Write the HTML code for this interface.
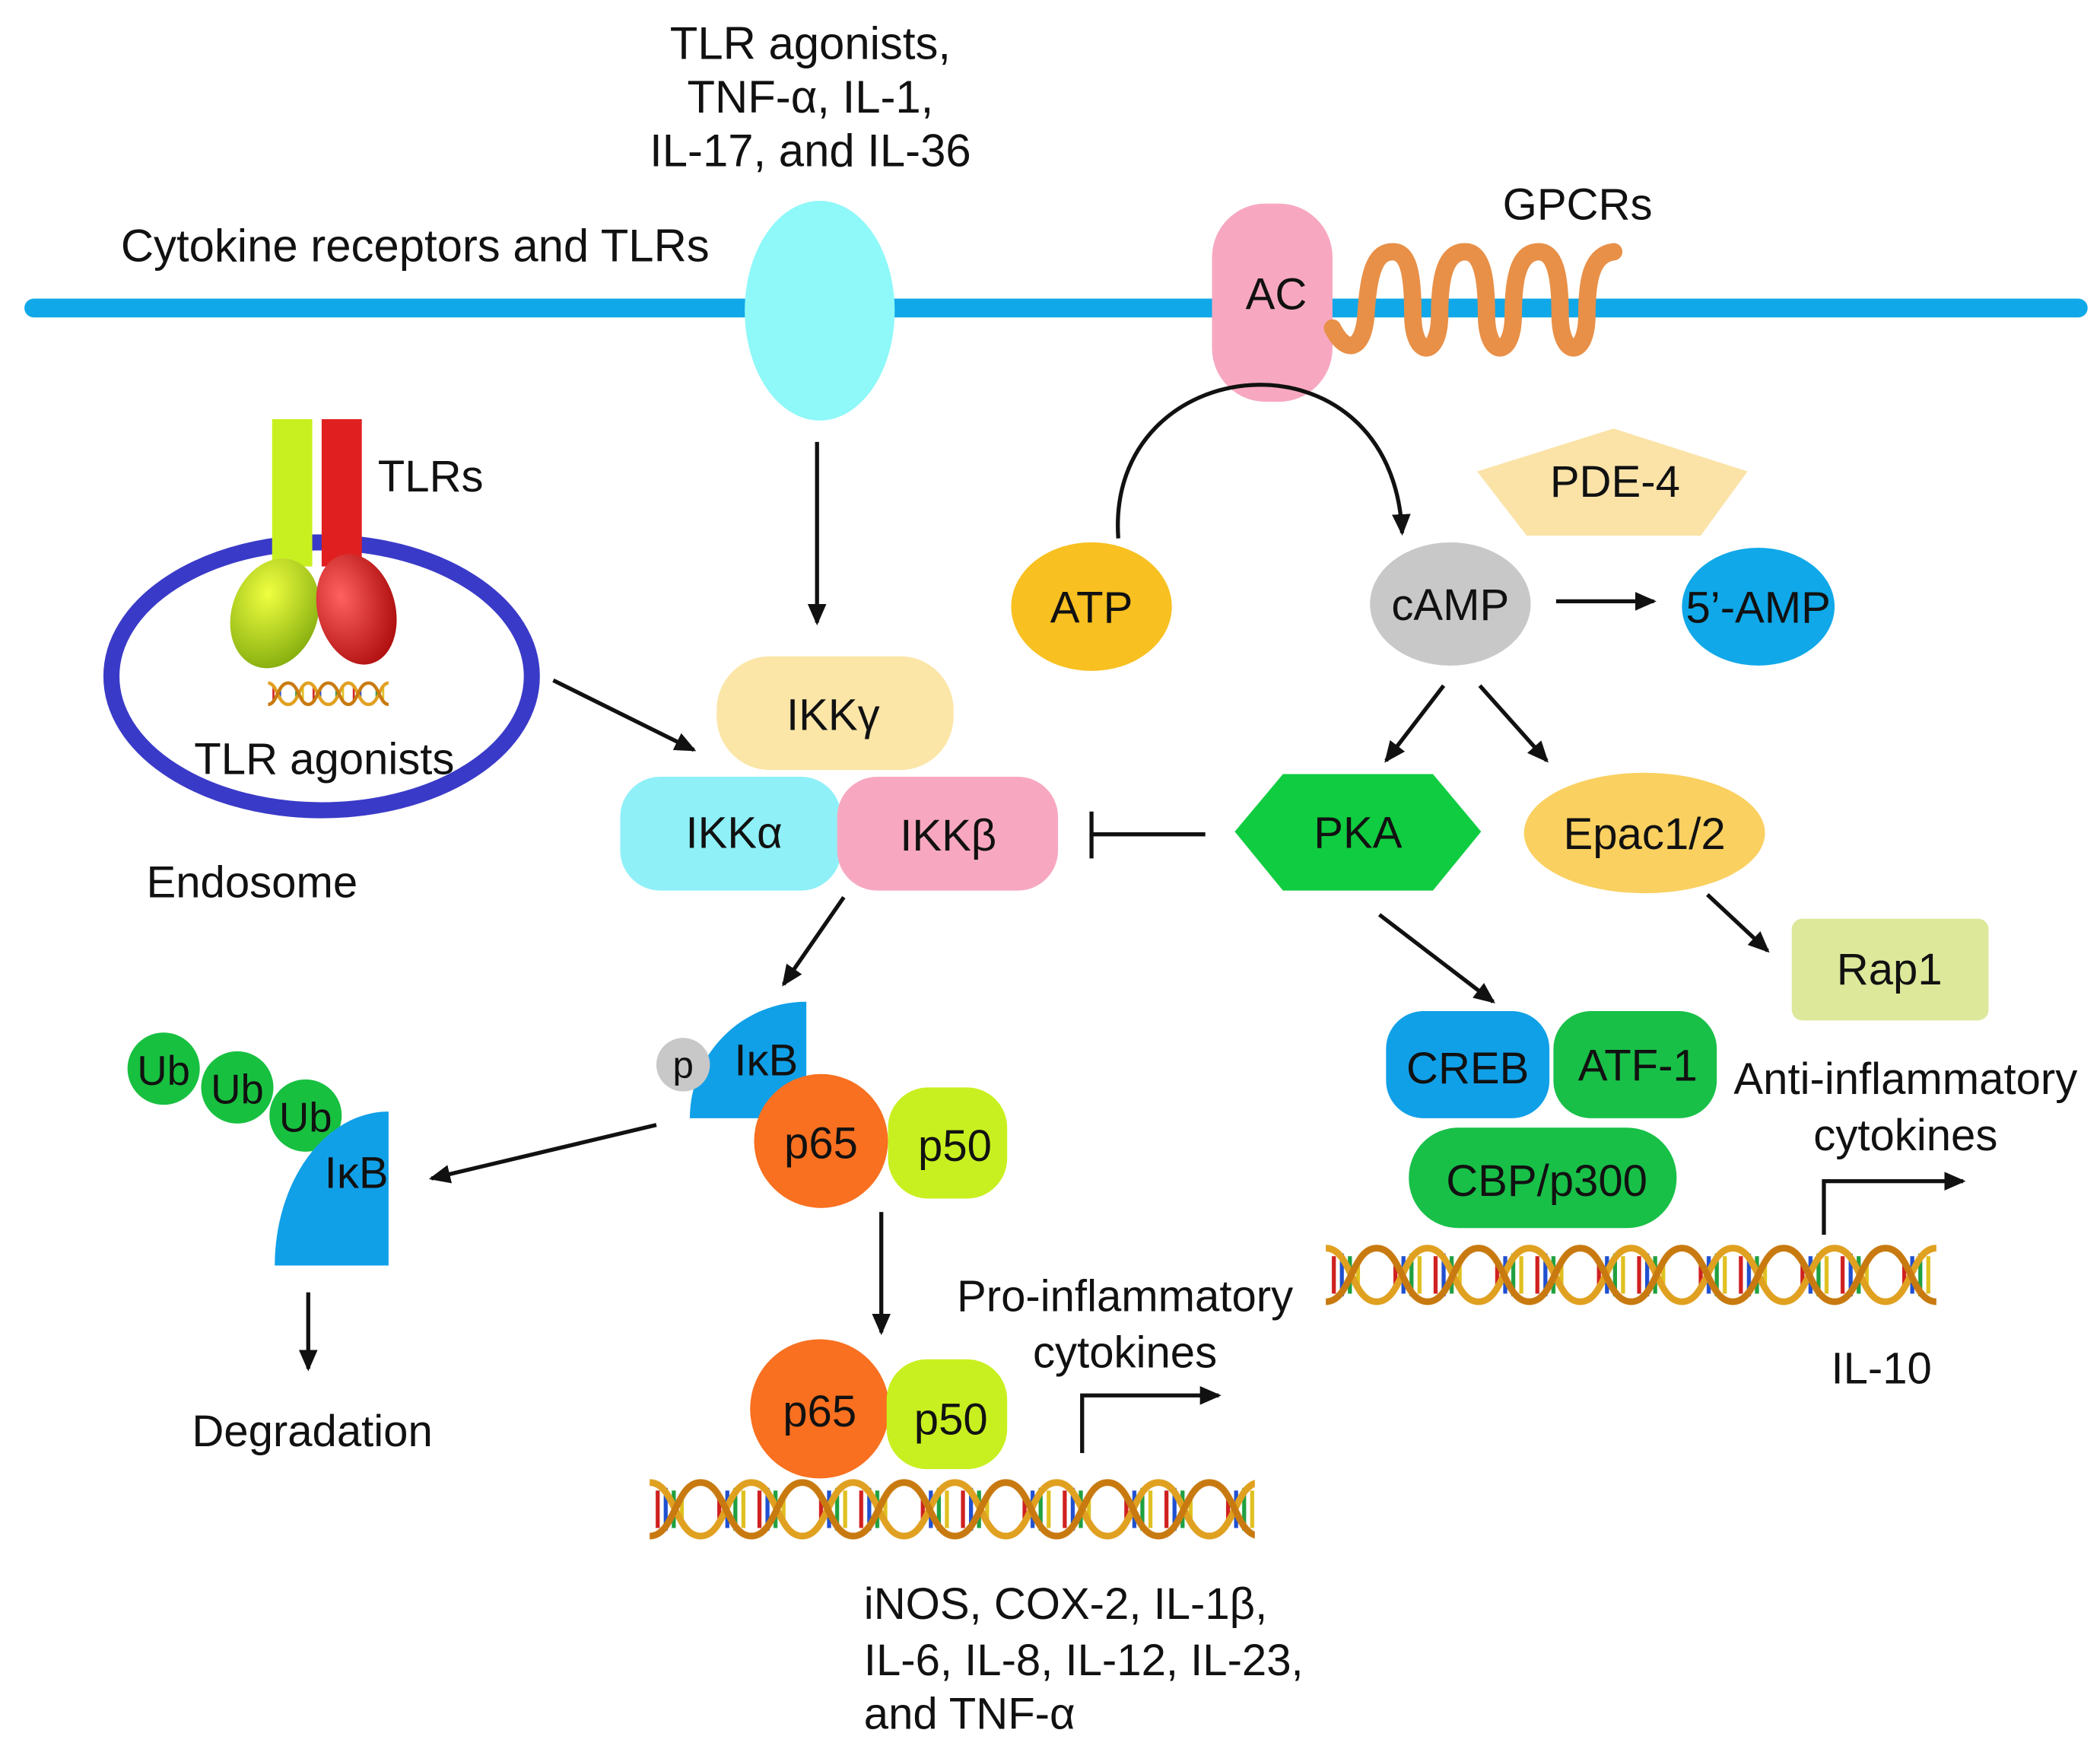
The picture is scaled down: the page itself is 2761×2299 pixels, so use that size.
<!DOCTYPE html>
<html><head><meta charset="utf-8"><style>
html,body{margin:0;padding:0;background:#fff}
svg{display:block}
text{font-family:"Liberation Sans",sans-serif;fill:#111}
</style></head><body>
<svg width="2761" height="2299" viewBox="0 0 1568 1306" xmlns="http://www.w3.org/2000/svg">
<defs>
<marker id="ah2" markerWidth="16" markerHeight="16" refX="14" refY="8" orient="auto" markerUnits="userSpaceOnUse" viewBox="0 0 16 16">
<path d="M0,1 L16,8 L0,15 z" fill="#111"/></marker>
<pattern id="dna" width="76" height="48" patternUnits="userSpaceOnUse">
<g stroke-width="3">
<line x1="6" y1="10" x2="6" y2="38" stroke="#d02020"/>
<line x1="12" y1="8" x2="12" y2="40" stroke="#2050d0"/>
<line x1="18" y1="10" x2="18" y2="38" stroke="#20a040"/>
<line x1="24" y1="14" x2="24" y2="34" stroke="#e0c020"/>
<line x1="52" y1="14" x2="52" y2="34" stroke="#d02020"/>
<line x1="58" y1="10" x2="58" y2="38" stroke="#2050d0"/>
<line x1="64" y1="8" x2="64" y2="40" stroke="#20a040"/>
<line x1="70" y1="10" x2="70" y2="38" stroke="#e0c020"/>
</g>
<path d="M0,4 C19,4 19,44 38,44 C57,44 57,4 76,4" fill="none" stroke="#e0a020" stroke-width="5"/>
<path d="M0,44 C19,44 19,4 38,4 C57,4 57,44 76,44" fill="none" stroke="#c87a10" stroke-width="5"/>
</pattern>
<pattern id="dnas" width="30" height="20" patternUnits="userSpaceOnUse">
<g stroke-width="1.5">
<line x1="4" y1="4" x2="4" y2="16" stroke="#d02020"/>
<line x1="9" y1="6" x2="9" y2="14" stroke="#2050d0"/>
<line x1="21" y1="6" x2="21" y2="14" stroke="#20a040"/>
<line x1="26" y1="4" x2="26" y2="16" stroke="#e0c020"/>
</g>
<path d="M0,2 C7,2 7,18 15,18 C23,18 23,2 30,2" fill="none" stroke="#e0a020" stroke-width="2.5"/>
<path d="M0,18 C7,18 7,2 15,2 C23,2 23,18 30,18" fill="none" stroke="#c87a10" stroke-width="2.5"/>
</pattern>
<radialGradient id="gy" cx="0.35" cy="0.35" r="0.7"><stop offset="0" stop-color="#f0ff40"/><stop offset="1" stop-color="#88b010"/></radialGradient>
<radialGradient id="gr" cx="0.35" cy="0.35" r="0.7"><stop offset="0" stop-color="#ff6060"/><stop offset="1" stop-color="#b01010"/></radialGradient>
</defs>

<line x1="25" y1="230" x2="1552" y2="230" stroke="#10a8e8" stroke-width="14" stroke-linecap="round"/>
<text x="605" y="44" font-size="34" text-anchor="middle">TLR agonists,</text>
<text x="605" y="84" font-size="34" text-anchor="middle">TNF-α, IL-1,</text>
<text x="605" y="124" font-size="34" text-anchor="middle">IL-17, and IL-36</text>
<text x="90" y="195" font-size="34">Cytokine receptors and TLRs</text>
<ellipse cx="612" cy="232" rx="56" ry="82" fill="#8ff8f8"/>

<rect x="905" y="152" width="90" height="148" rx="40" fill="#f7a8c0"/>
<text x="953" y="231" font-size="33" text-anchor="middle">AC</text>
<path d="M995,245 C1005,265 1018,262 1020,235 C1022,200 1028,188 1040,188 C1052,188 1055,205 1055,235 C1055,268 1075,268 1075,235 C1075,200 1082,188 1094,188 C1106,188 1110,205 1110,235 C1110,268 1130,268 1130,235 C1130,200 1137,188 1149,188 C1161,188 1165,205 1165,235 C1165,268 1185,268 1185,235 C1185,205 1190,190 1205,188" fill="none" stroke="#e89048" stroke-width="13" stroke-linecap="round"/>
<text x="1178" y="164" font-size="33" text-anchor="middle">GPCRs</text>

<line x1="610" y1="330" x2="610" y2="465" stroke="#111" stroke-width="3" marker-end="url(#ah2)"/>

<ellipse cx="240" cy="505" rx="157" ry="100" fill="none" stroke="#3a3ac8" stroke-width="12"/>
<rect x="203" y="313" width="30" height="110" fill="#c8f020"/>
<rect x="240" y="313" width="30" height="110" fill="#e02020"/>
<ellipse cx="205" cy="458" rx="32" ry="42" fill="url(#gy)" transform="rotate(20 205 458)"/>
<ellipse cx="266" cy="455" rx="29" ry="42" fill="url(#gr)" transform="rotate(-15 266 455)"/>
<g transform="translate(200,508)"><rect width="90" height="20" fill="url(#dnas)"/></g>
<text x="282" y="367" font-size="33">TLRs</text>
<text x="242" y="578" font-size="33" text-anchor="middle">TLR agonists</text>
<text x="188" y="670" font-size="33" text-anchor="middle">Endosome</text>
<line x1="413" y1="508" x2="518" y2="560" stroke="#111" stroke-width="3" marker-end="url(#ah2)"/>

<rect x="535" y="490" width="177" height="85" rx="40" fill="#fbe6a8"/>
<text x="622" y="545" font-size="33" text-anchor="middle">IKKγ</text>
<rect x="463" y="580" width="165" height="85" rx="30" fill="#8ff0f8"/>
<text x="548" y="633" font-size="33" text-anchor="middle">IKKα</text>
<rect x="625" y="580" width="165" height="85" rx="30" fill="#f7a8c0"/>
<text x="708" y="635" font-size="33" text-anchor="middle">IKKβ</text>
<line x1="900" y1="623" x2="815" y2="623" stroke="#111" stroke-width="3"/>
<line x1="815" y1="606" x2="815" y2="641" stroke="#111" stroke-width="3"/>

<path d="M835,402 C825,260 1040,240 1047,398" fill="none" stroke="#111" stroke-width="3" marker-end="url(#ah2)"/>
<ellipse cx="815" cy="453" rx="60" ry="48" fill="#f8c020"/>
<text x="815" y="465" font-size="33" text-anchor="middle">ATP</text>
<ellipse cx="1083" cy="451" rx="60" ry="46" fill="#c8c8c8"/>
<text x="1083" y="463" font-size="33" text-anchor="middle">cAMP</text>
<ellipse cx="1313" cy="453" rx="57" ry="44" fill="#10a8e8"/>
<text x="1313" y="465" font-size="33" text-anchor="middle">5’-AMP</text>
<line x1="1162" y1="449" x2="1235" y2="449" stroke="#111" stroke-width="3" marker-end="url(#ah2)"/>
<polygon points="1103,352 1205,320 1305,352 1270,400 1140,400" fill="#fbe3a8"/>
<text x="1206" y="371" font-size="33" text-anchor="middle">PDE-4</text>
<line x1="1078" y1="512" x2="1035" y2="568" stroke="#111" stroke-width="3" marker-end="url(#ah2)"/>
<line x1="1105" y1="512" x2="1155" y2="568" stroke="#111" stroke-width="3" marker-end="url(#ah2)"/>

<polygon points="922,621 958,578 1070,578 1106,621 1070,665 958,665" fill="#10cc40"/>
<text x="1014" y="633" font-size="33" text-anchor="middle">PKA</text>
<ellipse cx="1228" cy="622" rx="90" ry="45" fill="#fad060"/>
<text x="1228" y="634" font-size="33" text-anchor="middle">Epac1/2</text>
<line x1="1030" y1="683" x2="1115" y2="748" stroke="#111" stroke-width="3" marker-end="url(#ah2)"/>
<line x1="1275" y1="668" x2="1320" y2="710" stroke="#111" stroke-width="3" marker-end="url(#ah2)"/>
<rect x="1338" y="686" width="147" height="76" rx="8" fill="#dde89a"/>
<text x="1411" y="735" font-size="33" text-anchor="middle">Rap1</text>

<rect x="1035" y="755" width="122" height="80" rx="28" fill="#10a0e8"/>
<text x="1096" y="809" font-size="33" text-anchor="middle">CREB</text>
<rect x="1160" y="755" width="122" height="80" rx="28" fill="#18c048"/>
<text x="1223" y="807" font-size="33" text-anchor="middle">ATF-1</text>
<rect x="1052" y="842" width="200" height="75" rx="37" fill="#18c048"/>
<text x="1155" y="893" font-size="33" text-anchor="middle">CBP/p300</text>
<text x="1423" y="817" font-size="33" text-anchor="middle">Anti-inflammatory</text>
<text x="1423" y="859" font-size="33" text-anchor="middle">cytokines</text>
<polyline points="1362,922 1362,882 1466,882" fill="none" stroke="#111" stroke-width="3" marker-end="url(#ah2)"/>
<g transform="translate(990,928)"><rect width="456" height="48" fill="url(#dna)"/></g>
<text x="1405" y="1033" font-size="33" text-anchor="middle">IL-10</text>

<line x1="630" y1="670" x2="585" y2="735" stroke="#111" stroke-width="3" marker-end="url(#ah2)"/>
<path d="M515,835 A87,87 0 0 1 602,748 L602,835 Z" fill="#10a0e8"/>
<circle cx="510" cy="795" r="20" fill="#c8c8c8"/>
<text x="510" y="805" font-size="28" text-anchor="middle">p</text>
<text x="572" y="803" font-size="33" text-anchor="middle">IκB</text>
<circle cx="613" cy="852" r="50" fill="#f87020"/>
<text x="613" y="865" font-size="33" text-anchor="middle">p65</text>
<rect x="663" y="812" width="89" height="83" rx="30" fill="#c8f020"/>
<text x="713" y="867" font-size="33" text-anchor="middle">p50</text>

<line x1="490" y1="840" x2="322" y2="880" stroke="#111" stroke-width="3" marker-end="url(#ah2)"/>
<circle cx="122" cy="798" r="27" fill="#18c040"/>
<text x="122" y="810" font-size="31" text-anchor="middle">Ub</text>
<circle cx="177" cy="812" r="27" fill="#18c040"/>
<text x="177" y="824" font-size="31" text-anchor="middle">Ub</text>
<circle cx="228" cy="833" r="27" fill="#18c040"/>
<text x="228" y="845" font-size="31" text-anchor="middle">Ub</text>
<path d="M205,945 A85,115 0 0 1 290,830 L290,945 Z" fill="#10a0e8"/>
<text x="266" y="887" font-size="33" text-anchor="middle">IκB</text>
<line x1="230" y1="965" x2="230" y2="1022" stroke="#111" stroke-width="3" marker-end="url(#ah2)"/>
<text x="233" y="1080" font-size="33" text-anchor="middle">Degradation</text>

<line x1="658" y1="905" x2="658" y2="995" stroke="#111" stroke-width="3" marker-end="url(#ah2)"/>
<circle cx="612" cy="1052" r="52" fill="#f87020"/>
<text x="612" y="1065" font-size="33" text-anchor="middle">p65</text>
<rect x="662" y="1015" width="90" height="82" rx="30" fill="#c8f020"/>
<text x="710" y="1071" font-size="33" text-anchor="middle">p50</text>
<text x="840" y="979" font-size="33" text-anchor="middle">Pro-inflammatory</text>
<text x="840" y="1021" font-size="33" text-anchor="middle">cytokines</text>
<polyline points="808,1085 808,1042 910,1042" fill="none" stroke="#111" stroke-width="3" marker-end="url(#ah2)"/>
<g transform="translate(485,1103)"><rect width="452" height="48" fill="url(#dna)"/></g>
<text x="645" y="1209" font-size="33">iNOS, COX-2, IL-1β,</text>
<text x="645" y="1251" font-size="33">IL-6, IL-8, IL-12, IL-23,</text>
<text x="645" y="1291" font-size="33">and TNF-α</text>
</svg>
</body></html>
